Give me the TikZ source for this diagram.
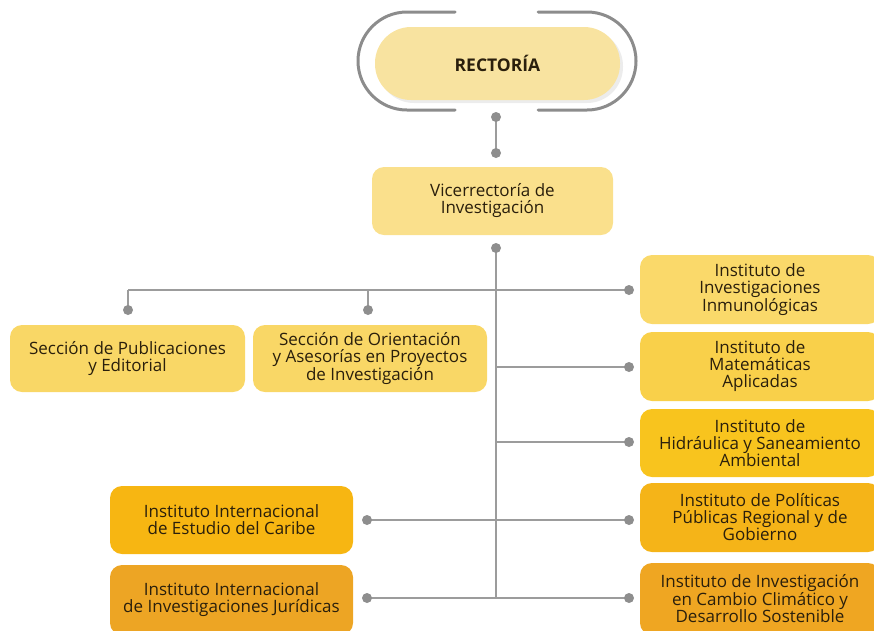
\documentclass[tikz,border=0pt]{standalone}
\usepackage{fontspec}
\setmainfont{Open Sans}
\usetikzlibrary{calc,shadows}
\definecolor{txt}{HTML}{2A1F0C}
\definecolor{ln}{HTML}{9C9C9C}
\definecolor{dotc}{HTML}{8E8E8E}
\definecolor{cR}{HTML}{F8E3A0}
\definecolor{cV}{HTML}{FAE08C}
\definecolor{cS}{HTML}{F9D766}
\definecolor{cI1}{HTML}{FAD96A}
\definecolor{cI2}{HTML}{F9D04A}
\definecolor{cI3}{HTML}{F8C41E}
\definecolor{cI4}{HTML}{F5B418}
\definecolor{cI5}{HTML}{EFA622}
\definecolor{cC}{HTML}{F7B612}
\definecolor{cJ}{HTML}{EDA524}
\tikzset{
  box/.style={rounded corners=12pt, inner sep=0pt, align=center, text=txt,
    font=\fontsize{17}{17}\selectfont, minimum height=68pt},
  conn/.style={draw=ln, line width=1.5pt},
  dot/.style={fill=dotc, draw=none},
}
\begin{document}
\begin{tikzpicture}[x=1pt,y=-1pt]
\useasboundingbox (0,0) rectangle (874,630);
% Rectoria outline
\draw[line width=3pt, draw=ln!90!black, line cap=round]
  (455,12) -- (407,12) arc[start angle=270,end angle=90,radius=49] -- (455,110);
\draw[line width=3pt, draw=ln!90!black, line cap=round]
  (538,12) -- (587,12) arc[start angle=-90,end angle=90,radius=49] -- (538,110);
\node[box, fill=cR, rounded corners=36pt, minimum width=245pt, minimum height=73pt,
  font=\fontsize{17.5}{17.5}\selectfont\bfseries, drop shadow={shadow xshift=3pt, shadow yshift=-3pt, fill=black!15}]
  (rect) at (497.5,63.5) {RECTORÍA};
% Vicerrectoria
\node[box, fill=cV, minimum width=241pt, minimum height=68pt] (vice) at (492.5,201) {Vicerrectoría de\\Investigación};
% Secciones
\node[box, fill=cS, minimum width=235pt, minimum height=67pt] (pub) at (127.5,358.5) {Sección de Publicaciones\\y Editorial};
\node[box, fill=cS, minimum width=234pt, minimum height=67pt] (ori) at (370,358.5) {Sección de Orientación\\y Asesorías en Proyectos\\de Investigación};
% Right institutes
\node[box, fill=cI1, minimum width=240pt, minimum height=69pt] (inm) at (760,289.5) {Instituto de\\Investigaciones\\Inmunológicas};
\node[box, fill=cI2, minimum width=240pt, minimum height=69pt] (mat) at (760,366.5) {Instituto de\\Matemáticas\\Aplicadas};
\node[box, fill=cI3, minimum width=240pt, minimum height=68pt] (hid) at (760,443) {Instituto de\\Hidráulica y Saneamiento\\Ambiental};
\node[box, fill=cI4, minimum width=240pt, minimum height=69pt] (pol) at (760,517.5) {Instituto de Políticas\\Públicas Regional y de\\Gobierno};
\node[box, fill=cI5, minimum width=240pt, minimum height=72pt] (cam) at (760,599) {Instituto de Investigación\\en Cambio Climático y\\Desarrollo Sostenible};
% Left institutes
\node[box, fill=cC, minimum width=243pt, minimum height=68pt] (car) at (231.5,520) {Instituto Internacional\\de Estudio del Caribe};
\node[box, fill=cJ, minimum width=243pt, minimum height=70pt] (jur) at (231.5,600) {Instituto Internacional\\de Investigaciones Jurídicas};
% connector points
\coordinate (d1) at (496,117);
\coordinate (d2) at (496,153);
\coordinate (d3) at (496,248);
\coordinate (bot) at (496,598);
\coordinate (hL) at (128,290);
\coordinate (hM) at (368,290);
\coordinate (dPub) at (128,310);
\coordinate (dOri) at (368,310);
\coordinate (dInm) at (629,290);
\coordinate (dMat) at (629,367);
\coordinate (dHid) at (629,442);
\coordinate (dPol) at (629,520);
\coordinate (dCam) at (629,598);
\coordinate (dCar) at (367,520);
\coordinate (dJur) at (367,598);
% lines
\draw[conn] (d1) -- (d2);
\draw[conn] (d3) -- (bot);
\draw[conn] (hL) -- (dInm);
\draw[conn] (hL) -- (dPub);
\draw[conn] (hM) -- (dOri);
\draw[conn] (dMat -| d3) -- (dMat);
\draw[conn] (dHid -| d3) -- (dHid);
\draw[conn] (dCar) -- (dPol);
\draw[conn] (dJur) -- (dCam);
% dots
\foreach \p in {d1,d2,d3,dPub,dOri,dInm,dMat,dHid,dPol,dCam,dCar,dJur}
  \fill[dot] (\p) circle (5pt);
\end{tikzpicture}
\end{document}
